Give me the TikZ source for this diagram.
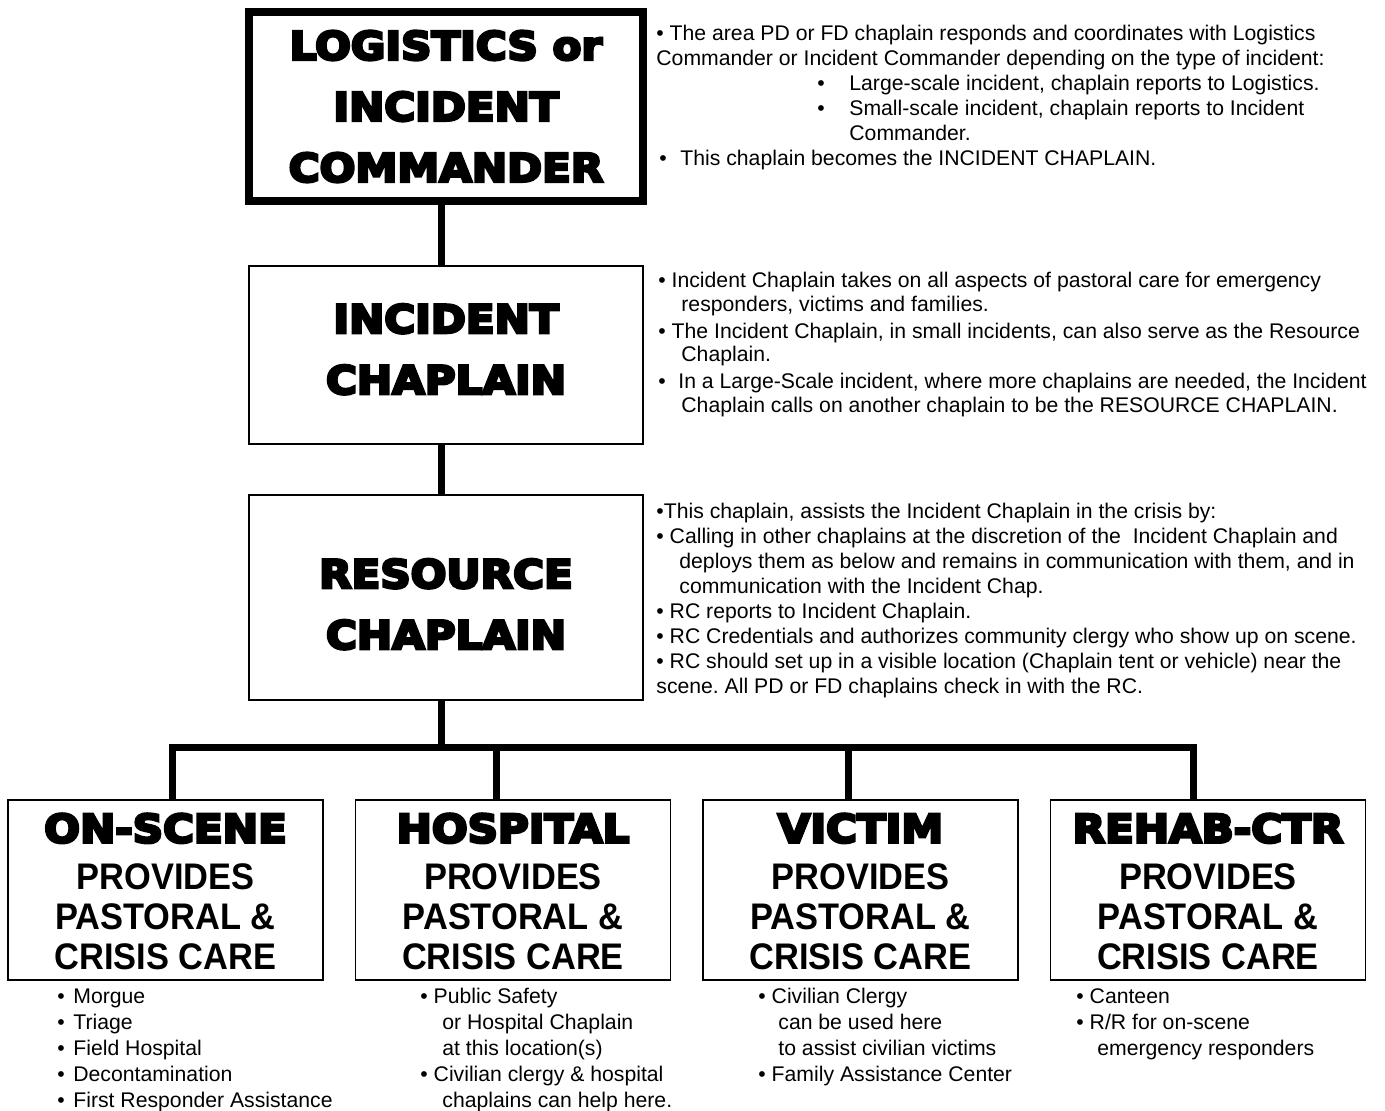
\documentclass[tikz,border=0pt]{standalone}
\usepackage{fontspec}
\setmainfont{Liberation Sans}
\newfontfamily\headfont[FakeStretch=1.08,FakeBold=7]{DejaVu Sans Bold}
\newfontfamily\boxfont[FakeStretch=0.93]{Liberation Sans Bold}
\newcommand{\ind}[1]{\hspace*{#1}}
\frenchspacing

\tikzset{
	cmdbox/.style={draw,line width=4pt,minimum width=197pt,minimum height=94.5pt,align=center,
		font=\headfont\fontsize{19.5pt}{30.5pt}\selectfont},
	chapbox/.style={draw,line width=0.75pt,minimum width=197pt,align=center,
		font=\headfont\fontsize{19.5pt}{30.5pt}\selectfont},
	unitbox/.style={draw,line width=0.75pt,minimum width=157.5pt,minimum height=90pt,align=center,
		font=\boxfont\fontsize{18.5pt}{20pt}\selectfont},
	notes/.style={anchor=base west,align=left,inner sep=0pt,font=\fontsize{10.6pt}{12.5pt}\selectfont},
	link/.style={line width=3.5pt}
}
\newcommand{\unithead}[1]{{\headfont\fontsize{19.5pt}{20pt}\selectfont\rule{0pt}{16.2pt}#1}}

\begin{document}
\begin{tikzpicture}[x=0.5pt,y=-0.5pt]
	\useasboundingbox (0,0) rectangle (1385,1110);
	% chain of command
	\node[cmdbox] (cmd) at (446,106.5) {LOGISTICS or\\INCIDENT\\COMMANDER};
	\node[chapbox,minimum height=89pt] (inc) at (446,355) {INCIDENT\\CHAPLAIN\rule[-6pt]{0pt}{6pt}};
	\node[chapbox,minimum height=102.5pt] (res) at (446,597.5) {\rule{0pt}{21.2pt}RESOURCE\\CHAPLAIN};
	% deployment locations
	\node[unitbox] (scene) at (165.5,890) {\unithead{ON-SCENE}\\[3.5pt]PROVIDES\\PASTORAL \&\\CRISIS CARE};
	\node[unitbox] (hosp) at (513,890) {\unithead{HOSPITAL}\\[3.5pt]PROVIDES\\PASTORAL \&\\CRISIS CARE};
	\node[unitbox] (victim) at (860.5,890) {\unithead{VICTIM}\\[3.5pt]PROVIDES\\PASTORAL \&\\CRISIS CARE};
	\node[unitbox] (rehab) at (1208,890) {\unithead{REHAB-CTR}\\[3.5pt]PROVIDES\\PASTORAL \&\\CRISIS CARE};

	\coordinate (spine) at (441,0);
	\coordinate (d1) at (172,747);
	\coordinate (d2) at (496,747);
	\coordinate (d3) at (848,747);
	\coordinate (d4) at (1193,747);
	\draw[link] (cmd.south -| spine) -- (inc.north -| spine);
	\draw[link] (inc.south -| spine) -- (res.north -| spine);
	\draw[link] (res.south -| spine) -- (spine |- d1);
	\draw[link] (scene.north -| d1) -- (d1) -- (d4) -- (rehab.north -| d4);
	\draw[link] (d2) -- (hosp.north -| d2);
	\draw[link] (d3) -- (victim.north -| d3);

	% notes beside the chain (anchored at the last baseline)
	\node[notes] (cmdnote) at (656,165) {• The area PD or FD chaplain responds and coordinates with Logistics\\
		Commander or Incident Commander depending on the type of incident:\\
		\ind{80.5pt}\makebox[16pt][l]{•}Large-scale incident, chaplain reports to Logistics.\\
		\ind{80.5pt}\makebox[16pt][l]{•}Small-scale incident, chaplain reports to Incident\\
		\ind{96.5pt}Commander.\\
		\ind{1.5pt}\makebox[10.5pt][l]{•}This chaplain becomes the INCIDENT CHAPLAIN.};
	\node[notes,font=\fontsize{10.6pt}{11.75pt}\selectfont] (incnote) at (658,412) {• Incident Chaplain takes on all aspects of pastoral care for emergency\\
		\ind{11.5pt}responders, victims and families.\\[1.75pt]
		• The Incident Chaplain, in small incidents, can also serve as the Resource\\
		\ind{11.5pt}Chaplain.\\[1.75pt]
		\makebox[10pt][l]{•}In a Large-Scale incident, where more chaplains are needed, the Incident\\
		\ind{11.5pt}Chaplain calls on another chaplain to be the RESOURCE CHAPLAIN.};
	\node[notes] (resnote) at (656,693) {•This chaplain, assists the Incident Chaplain in the crisis by:\\
		• Calling in other chaplains at the discretion of the \ Incident Chaplain and\\
		\ind{11.5pt}deploys them as below and remains in communication with them, and in\\
		\ind{11.5pt}communication with the Incident Chap.\\
		• RC reports to Incident Chaplain.\\
		• RC Credentials and authorizes community clergy who show up on scene.\\
		• RC should set up in a visible location (Chaplain tent or vehicle) near the\\
		scene. All PD or FD chaplains check in with the RC.};

	% lists under the locations
	\node[notes,font=\fontsize{10.6pt}{13pt}\selectfont] (scenenote) at (57,1107) {\makebox[8pt][l]{•}Morgue\\
		\makebox[8pt][l]{•}Triage\\ \makebox[8pt][l]{•}Field Hospital\\
		\makebox[8pt][l]{•}Decontamination\\ \makebox[8pt][l]{•}First Responder Assistance};
	\node[notes,font=\fontsize{10.6pt}{13pt}\selectfont] (hospnote) at (420,1107) {• Public Safety\\
		\ind{11pt}or Hospital Chaplain\\ \ind{11pt}at this location(s)\\
		• Civilian clergy \& hospital\\ \ind{11pt}chaplains can help here.};
	\node[notes,font=\fontsize{10.6pt}{13pt}\selectfont] (victimnote) at (758,1081) {• Civilian Clergy\\
		\ind{10pt}can be used here\\ \ind{10pt}to assist civilian victims\\
		• Family Assistance Center};
	\node[notes,font=\fontsize{10.6pt}{13pt}\selectfont] (rehabnote) at (1076,1055) {• Canteen\\
		• R/R for on-scene\\ \ind{10.5pt}emergency responders};
\end{tikzpicture}
\end{document}
